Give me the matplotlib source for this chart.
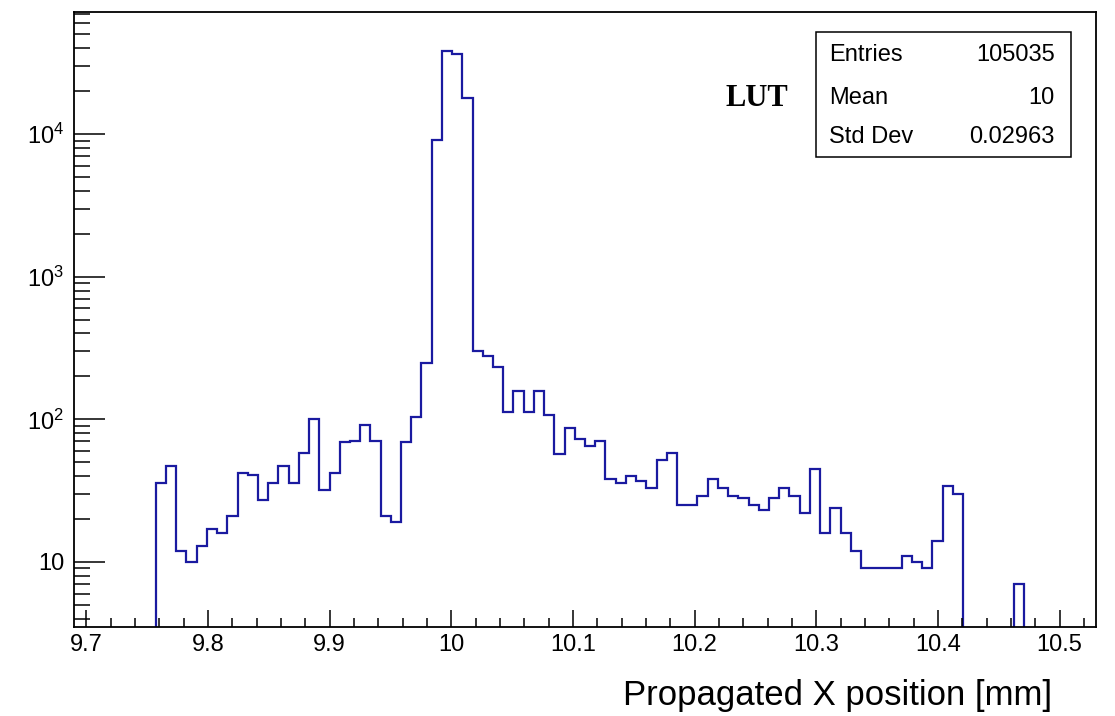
import numpy as np
import matplotlib
matplotlib.use("Agg")
from matplotlib import pyplot as plt
from matplotlib.patches import Rectangle
from matplotlib.ticker import MultipleLocator, LogLocator, FuncFormatter, NullFormatter

plt.rcParams['font.family'] = ['Liberation Sans', 'DejaVu Sans']
plt.rcParams['mathtext.fontset'] = 'custom'
plt.rcParams['mathtext.rm'] = 'Liberation Sans'
plt.rcParams['mathtext.it'] = 'Liberation Sans:italic'

# histogram binning and contents
x_min, x_max, n_bins = 9.69, 10.53, 100
counts = [0, 0, 0, 0, 0, 0, 0, 0,
          36, 47, 12, 10, 13, 17, 16, 21, 42, 41,
          27, 36, 47, 36, 58, 100, 32, 42, 69, 70,
          91, 71, 21, 19, 69, 104, 249, 9100, 38300, 36700,
          17800, 301, 276, 234, 112, 157, 112, 157, 108, 57,
          87, 73, 65, 70, 38, 36, 40, 37, 33, 52,
          58, 25, 25, 29, 38, 33, 29, 28, 25, 23,
          28, 33, 29, 22, 45, 16, 24, 16, 12, 9,
          9, 9, 9, 11, 10, 9, 14, 34, 30,
          0, 0, 0, 0, 0, 7, 0, 0, 0, 0, 0, 0, 0]
y_min, y_max = 3.5, 7.18e4

stat_names = ["Entries", "Mean", "Std Dev"]
stat_values = ["105035", "10", "0.02963"]
hist_title = "LUT"
x_title = "Propagated X position [mm]"

W, H = 1115, 716
fig = plt.figure(figsize=(W / 100, H / 100), dpi=100)
ax = fig.add_axes([74 / W, 1 - 627 / H, (1096 - 74) / W, (627 - 12) / H])

edges = np.linspace(x_min, x_max, n_bins + 1)
ax.stairs(counts, edges, color='#1a1aa0', lw=1.6, baseline=0)

ax.set_yscale('log', nonpositive='clip')
ax.set_xlim(x_min, x_max)
ax.set_ylim(y_min, y_max)

ax.xaxis.set_major_locator(MultipleLocator(0.1))
ax.xaxis.set_minor_locator(MultipleLocator(0.02))
ax.xaxis.set_major_formatter(FuncFormatter(lambda v, p: "%g" % round(v, 2)))
ax.yaxis.set_major_locator(LogLocator(base=10))
ax.yaxis.set_minor_locator(LogLocator(base=10, subs=np.arange(2, 10)))
ax.yaxis.set_minor_formatter(NullFormatter())


def ylab(v, p):
    n = int(round(np.log10(v)))
    if n == 0:
        return "1"
    if n == 1:
        return "10"
    return r"$10^{%d}$" % n


ax.yaxis.set_major_formatter(FuncFormatter(ylab))

ax.tick_params(axis='both', which='both', direction='in', top=False, right=False,
               labelsize=17, width=1.1, color='black')
ax.tick_params(axis='x', which='major', length=12, pad=5)
ax.tick_params(axis='x', which='minor', length=6.5)
ax.tick_params(axis='y', which='major', length=22, pad=7)
ax.tick_params(axis='y', which='minor', length=11.5)
for s in ax.spines.values():
    s.set_linewidth(1.3)

# x axis title, right aligned under the frame
fig.text(1052 / W, 1 - 695 / H, x_title, ha='right', va='center', fontsize=25)

# histogram title
fig.text(757 / W, 1 - 98 / H, hist_title, ha='center', va='center', fontsize=22,
         fontweight='bold', family=['Liberation Serif', 'DejaVu Serif'])

# stats box
fig.patches.append(Rectangle((816 / W, 1 - 157 / H), (1071 - 816) / W, (157 - 32) / H,
                             transform=fig.transFigure, fill=True, facecolor='white',
                             edgecolor='black', lw=1.1, zorder=5))
row_y = [55, 98, 137]
for name, val, yy in zip(stat_names, stat_values, row_y):
    fig.text(829 / W, 1 - yy / H, name, ha='left', va='center', fontsize=17, zorder=6)
    fig.text(1055 / W, 1 - yy / H, val, ha='right', va='center', fontsize=17, zorder=6)

fig.savefig("out.png", dpi=100)
